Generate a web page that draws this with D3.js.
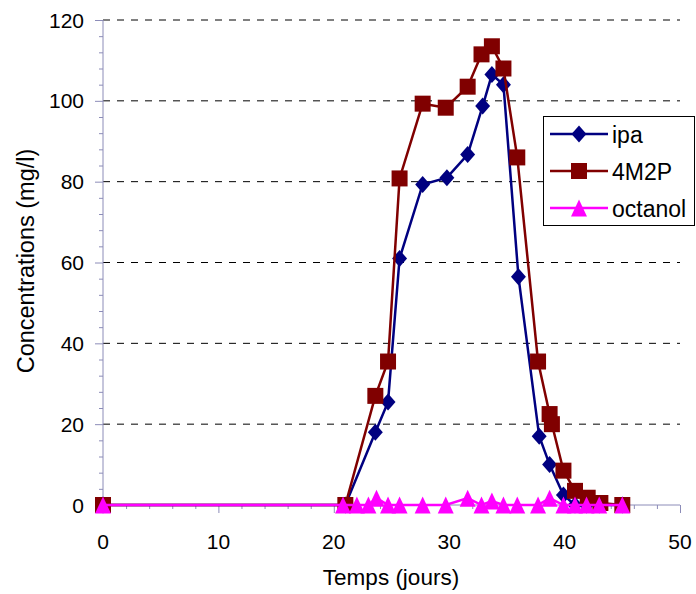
<!DOCTYPE html>
<html>
<head>
<meta charset="utf-8">
<script src="https://cdn.jsdelivr.net/npm/d3@7"></script>
<style>
  body { margin: 0; background: white; }
  text { font-family: "Liberation Sans", Arial, sans-serif; }
</style>
</head>
<body>
<div id="container"></div>
<script>
let w = 696;
let h = 594;

// data
let ipaDays   = [0, 21, 23.6, 24.7, 25.7, 27.7, 29.8, 31.6, 32.9, 33.7, 34.7, 36, 37.8, 38.7, 39.9, 40.9, 41.9, 43, 45];
let ipaValues = [0, 0, 18, 25.5, 61, 79.3, 81, 86.7, 98.7, 106.5, 104, 56.5, 17, 10, 2.5, 0, 0, 0, 0];

let m2pDays   = [0, 21, 23.6, 24.7, 25.7, 27.7, 29.7, 31.6, 32.8, 33.7, 34.7, 35.9, 37.7, 38.7, 38.9, 39.9, 40.9, 42, 43.1, 45];
let m2pValues = [0, 0, 27, 35.5, 80.8, 99.3, 98.3, 103.5, 111.5, 113.5, 108, 86, 35.5, 22.5, 20, 8.5, 3.5, 1.8, 0.5, 0];

let octDays   = [0, 20.8, 22, 23, 23.7, 24.7, 25.7, 27.7, 29.7, 31.6, 32.8, 33.7, 34.7, 35.9, 37.7, 38.7, 39.9, 40.9, 41.9, 43, 45];
let octValues = [0, 0, 0, 0, 1.7, 0, 0, 0, 0, 1.7, 0, 1, 0, 0, 0, 1.7, 0, 0, 0, 0, 0];

let xTicks = [0, 10, 20, 30, 40, 50];
let yTicks = [0, 20, 40, 60, 80, 100, 120];
let seriesNames = ["ipa", "4M2P", "octanol"];

let x = d3.scaleLinear().domain([0, 50]).range([103, 680]);
let y = d3.scaleLinear().domain([0, 120]).range([505, 20]);

let viz = d3.select("#container")
  .append("svg")
    .attr("width", w)
    .attr("height", h)
    .style("background-color", "white");

let axisColor = "#8c8cb8";

// excel-like marker shapes, size = full extent in px
let diamond = { draw(ctx, s) { ctx.moveTo(0, -s/2); ctx.lineTo(s*0.44, 0); ctx.lineTo(0, s/2); ctx.lineTo(-s*0.44, 0); ctx.closePath(); } };
let square = { draw(ctx, s) { ctx.rect(-s/2, -s/2, s, s); } };
let triangle = { draw(ctx, s) { ctx.moveTo(0, -s/2); ctx.lineTo(s*0.47, s/2); ctx.lineTo(-s*0.47, s/2); ctx.closePath(); } };

// gridlines
viz.selectAll(".grid")
  .data(yTicks.filter(d => d > 0))
  .enter()
  .append("line")
    .attr("x1", x(0)).attr("x2", x(50))
    .attr("y1", d => y(d)).attr("y2", d => y(d))
    .attr("stroke", "#000")
    .attr("stroke-width", 1)
    .attr("stroke-dasharray", "7,7");

// y axis
let yAxis = d3.axisLeft(y).tickValues(d3.range(0, 121, 4)).tickFormat("").tickSize(4);
let gy = viz.append("g").attr("transform", "translate(" + x(0) + ",0)").call(yAxis);
gy.selectAll("line, path").attr("stroke", axisColor);
gy.selectAll(".tick").filter(d => d % 20 === 0).select("line").attr("x2", -8);
gy.select(".domain").attr("d", "M0," + y(0) + "V" + y(120));

viz.selectAll(".ylab")
  .data(yTicks)
  .enter()
  .append("text")
    .attr("x", 84)
    .attr("y", d => y(d) + 7.5)
    .attr("text-anchor", "end")
    .attr("font-size", 21)
    .text(d => d);

// x axis
let xAxis = d3.axisBottom(x).tickValues(d3.range(0, 51, 2)).tickFormat("").tickSize(4);
let gx = viz.append("g").attr("transform", "translate(0," + y(0) + ")").call(xAxis);
gx.selectAll("line, path").attr("stroke", axisColor);
gx.selectAll(".tick").filter(d => d % 10 === 0).select("line").attr("y2", 8);
gx.select(".domain").attr("d", "M" + x(0) + ",0H" + x(50));

viz.selectAll(".xlab")
  .data(xTicks)
  .enter()
  .append("text")
    .attr("x", d => x(d))
    .attr("y", 549)
    .attr("text-anchor", "middle")
    .attr("font-size", 21)
    .text(d => d);

// axis titles
viz.append("text")
  .attr("transform", "translate(34,261) rotate(-90)")
  .attr("text-anchor", "middle")
  .attr("font-size", 23.5)
  .text("Concentrations (mg/l)");

viz.append("text")
  .attr("x", 391)
  .attr("y", 585)
  .attr("text-anchor", "middle")
  .attr("font-size", 22.5)
  .text("Temps (jours)");

// series
let series = [
  { name: seriesNames[0], days: ipaDays, values: ipaValues, color: "#000080", shape: diamond, size: 17 },
  { name: seriesNames[1], days: m2pDays, values: m2pValues, color: "#800000", shape: square, size: 16 },
  { name: seriesNames[2], days: octDays, values: octValues, color: "#ff00ff", shape: triangle, size: 17 }
];

let line = d3.line().x(d => x(d[0])).y(d => y(d[1]));

series.forEach(s => {
  let pts = s.days.map((d, i) => [d, s.values[i]]);
  viz.append("path")
    .attr("d", line(pts))
    .attr("fill", "none")
    .attr("stroke", s.color)
    .attr("stroke-width", 2.5);
  viz.selectAll(null)
    .data(pts)
    .enter()
    .append("path")
      .attr("d", d3.symbol().type(s.shape).size(s.size))
      .attr("transform", d => "translate(" + x(d[0]) + "," + y(d[1]) + ")")
      .attr("fill", s.color);
});

// legend
let lg = viz.append("g");
lg.append("rect")
  .attr("x", 543.5).attr("y", 116.5)
  .attr("width", 151).attr("height", 109)
  .attr("fill", "white")
  .attr("stroke", "#000")
  .attr("stroke-width", 1);

series.forEach((s, i) => {
  let ly = 134 + i * 37;
  lg.append("line")
    .attr("x1", 550).attr("x2", 608)
    .attr("y1", ly).attr("y2", ly)
    .attr("stroke", s.color)
    .attr("stroke-width", 2.5);
  lg.append("path")
    .attr("d", d3.symbol().type(s.shape).size(s.size))
    .attr("transform", "translate(579," + ly + ")")
    .attr("fill", s.color);
  lg.append("text")
    .attr("x", 612)
    .attr("y", ly + 8.5)
    .attr("font-size", 23)
    .text(s.name);
});
</script>
</body>
</html>
